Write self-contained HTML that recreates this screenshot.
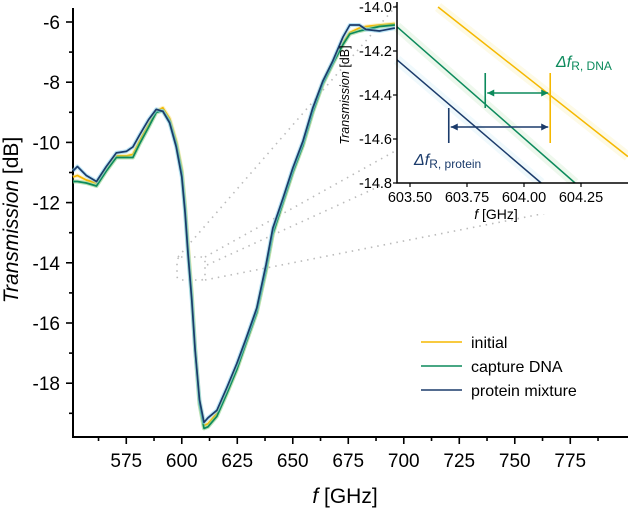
<!DOCTYPE html>
<html><head><meta charset="utf-8"><style>
html,body{margin:0;padding:0;background:#fff;}
svg{display:block;font-family:"Liberation Sans",Arial,sans-serif;}
</style></head><body>
<svg id="chart" width="628" height="511" viewBox="0 0 628 511" xmlns="http://www.w3.org/2000/svg">
<g id="dots" stroke="#bbb" stroke-width="1.6" stroke-dasharray="1.5 5" fill="none">
<rect x="177" y="257" width="28" height="23" rx="4"/>
<line x1="178" y1="257" x2="397" y2="5"/>
<line x1="205" y1="257" x2="397" y2="150"/>
<line x1="207" y1="265" x2="380" y2="186"/>
<line x1="205" y1="280" x2="628" y2="197"/>
</g>
<g id="main"></g>
<g id="inset"></g>
<text x="18" y="220" transform="rotate(-90 18 220)" text-anchor="middle" font-size="21"><tspan font-style="italic">Transmission</tspan> [dB]</text>
<text x="345" y="503" text-anchor="middle" font-size="21"><tspan font-style="italic">f</tspan> [GHz]</text>
<g font-size="16">
<line x1="421" y1="342" x2="462" y2="342" stroke="#f5b800" stroke-width="1.6"/>
<text x="471" y="348">initial</text>
<line x1="421" y1="366" x2="462" y2="366" stroke="#0c8a5c" stroke-width="1.6"/>
<text x="471" y="372">capture DNA</text>
<line x1="421" y1="390" x2="462" y2="390" stroke="#1b3b6b" stroke-width="1.6"/>
<text x="471" y="396">protein mixture</text>
</g>
</svg>
<script>
// main chart data
const freqs   = [551,553,557,561.6,566,570.5,575,578,581,585,588.5,591.5,594.5,597.5,600,601.5,602.8,604.5,606,608,610,611.8,615.8,620.3,624.8,629,633.8,638,641,645.6,650,654.6,659,663.6,668,672.6,675.7,680,683,689,696];
const navyT   = [-10.95,-10.8,-11.1,-11.3,-10.8,-10.35,-10.3,-10.15,-9.75,-9.25,-8.9,-8.97,-9.35,-10.15,-11.15,-12.35,-13.7,-15.25,-16.9,-18.55,-19.3,-19.15,-18.9,-18.15,-17.35,-16.5,-15.5,-14.05,-12.85,-11.85,-10.85,-9.95,-8.85,-7.95,-7.3,-6.5,-6.1,-6.1,-6.25,-6.3,-6.2];
const yellowT = [-11.15,-11.1,-11.25,-11.35,-10.9,-10.45,-10.45,-10.4,-9.95,-9.4,-8.95,-8.85,-9.2,-9.95,-10.9,-12.1,-13.4,-15.0,-16.8,-18.6,-19.4,-19.35,-19.0,-18.3,-17.5,-16.6,-15.6,-14.2,-13.0,-11.95,-10.95,-10.05,-8.95,-8.0,-7.35,-6.7,-6.35,-6.2,-6.15,-6.1,-6.05];
const greenT  = [-11.3,-11.3,-11.35,-11.45,-10.95,-10.5,-10.5,-10.5,-10.05,-9.5,-9.0,-8.95,-9.3,-10.05,-11.0,-12.2,-13.55,-15.1,-16.85,-18.7,-19.5,-19.45,-19.1,-18.35,-17.55,-16.65,-15.65,-14.25,-13.05,-12.0,-11.0,-10.1,-9.0,-8.05,-7.4,-6.75,-6.4,-6.3,-6.25,-6.15,-6.1];
const xTicks  = [575,600,625,650,675,700,725,750,775];
const yTicks  = [-6,-8,-10,-12,-14,-16,-18];
// inset data
const insetYellowF = [603.623,604.456]; const insetYellowT = [-14.0,-14.68];
const insetGreenF  = [603.443,604.224]; const insetGreenT  = [-14.09,-14.8];
const insetNavyF   = [603.443,604.075]; const insetNavyT   = [-14.24,-14.8];
const insetXTicks = [603.50,603.75,604.00,604.25];
const insetYTicks = [-14.0,-14.2,-14.4,-14.6,-14.8];
const markYellowF = 604.115, markGreenF = 603.83, markNavyF = 603.67;

const NS="http://www.w3.org/2000/svg";
function el(t,a,p){const e=document.createElementNS(NS,t);for(const k in a)e.setAttribute(k,a[k]);p.appendChild(e);return e;}
const X=f=>73+(f-551)*2.22;
const Y=t=>22+(-6-t)*30.1;
const main=document.getElementById('main');
let ax=el('path',{d:'M73 8 V437 H628',stroke:'#000','stroke-width':2,fill:'none'},main);


for(let f=562.5;f<800;f+=12.5){
  const major=xTicks.includes(f);
  const t=el('line',{x1:X(f),x2:X(f),y1:437,y2:major?444:441,stroke:'#000','stroke-width':1.6},main);
  
  
}
xTicks.forEach(v=>{const t=el('text',{x:X(v),y:467,'text-anchor':'middle','font-size':19},main);t.textContent=v;
  
  });
for(let v=-6;v>=-19.5;v-=1){
  const major=yTicks.includes(v);
  const t=el('line',{x1:major?66:69,x2:73,y1:Y(v),y2:Y(v),stroke:'#000','stroke-width':1.6},main);
  
  
}
yTicks.forEach(v=>{const t=el('text',{x:60,y:Y(v)+7,'text-anchor':'end','font-size':19},main);t.textContent=v;
  
  });
function series(T,color,band,name){
  const d=freqs.map((f,i)=>(i?'L':'M')+X(f).toFixed(1)+' '+Y(T[i]).toFixed(1)).join(' ');
  const b=el('path',{d,stroke:band,'stroke-width':4,fill:'none','stroke-linejoin':'round',opacity:0.6},main);
  
  
  const l=el('path',{d,stroke:color,'stroke-width':1.7,fill:'none','stroke-linejoin':'round'},main);
  
  
}
series(yellowT,'#f5b800','#fbe79a','initial');
series(greenT,'#0c8a5c','#8fd08a','capture-dna');
series(navyT,'#1b3b6b','#8fd3f0','protein-mixture');

const ins=document.getElementById('inset');
const IX=f=>397+(f-603.443)*228;
const IY=t=>7+(-14-t)*220;
el('rect',{x:398,y:0,width:230,height:183,fill:'#fff'},ins);
function iline(F,T,color,band,name){
  const b=el('line',{x1:IX(F[0]),y1:IY(T[0]),x2:IX(F[1]),y2:IY(T[1]),stroke:band,'stroke-width':10,opacity:0.25},ins);
  
  
  const l=el('line',{x1:IX(F[0]),y1:IY(T[0]),x2:IX(F[1]),y2:IY(T[1]),stroke:color,'stroke-width':1.5},ins);
  
  
}
iline(insetYellowF,insetYellowT,'#f5b800','#fbeea0','initial');
iline(insetGreenF,insetGreenT,'#0c8a5c','#bfe6bc','capture-dna');
iline(insetNavyF,insetNavyT,'#1b3b6b','#c4ebf7','protein-mixture');
el('rect',{x:390,y:184,width:240,height:30,fill:'#fff'},ins);
let iax=el('path',{d:'M397 2 V183 H628',stroke:'#000','stroke-width':1.5,fill:'none'},ins);


insetYTicks.forEach(v=>{
  const t=el('line',{x1:393,x2:397,y1:IY(v),y2:IY(v),stroke:'#000','stroke-width':1.2},ins);
  
  
  const s=el('text',{x:392,y:IY(v)+5,'text-anchor':'end','font-size':14.5},ins);s.textContent=v.toFixed(1);
  
  
});
insetXTicks.forEach(v=>{
  const t=el('line',{x1:IX(v),x2:IX(v),y1:183,y2:187,stroke:'#000','stroke-width':1.2},ins);
  
  
  const s=el('text',{x:IX(v),y:202,'text-anchor':'middle','font-size':14.5},ins);s.textContent=v.toFixed(2);
  
  
});
let iyl=el('text',{x:349,y:95,transform:'rotate(-90 349 95)','text-anchor':'middle','font-size':12.5},ins);
iyl.innerHTML='<tspan font-style="italic">Transmission</tspan> [dB]';


let ixl=el('text',{x:496,y:219,'text-anchor':'middle','font-size':14},ins);
ixl.innerHTML='<tspan font-style="italic">f</tspan> [GHz]';


function vline(f,y1,y2,c,name){const l=el('line',{x1:IX(f),x2:IX(f),y1,y2,stroke:c,'stroke-width':1.6},ins);
  
  }
vline(markYellowF,73,143,'#f5b800','initial-resonance-marker');
vline(markGreenF,73,108,'#0c8a5c','dna-resonance-marker');
vline(markNavyF,108,143,'#1b3b6b','protein-resonance-marker');
function arrow(f1,f2,y,c,name){
  const x1=IX(f1)+2,x2=IX(f2)-2;
  const g=el('g',{},ins);
  
  
  el('line',{x1,x2,y1:y,y2:y,stroke:c,'stroke-width':1.6},g);
  el('path',{d:`M${x1} ${y} l7 -3.5 v7 z M${x2} ${y} l-7 -3.5 v7 z`,fill:c},g);
}
arrow(markGreenF,markYellowF,93,'#0c8a5c','dna-shift-arrow');
arrow(markNavyF,markYellowF,127,'#1b3b6b','protein-shift-arrow');
let l1=el('text',{x:556,y:67,'font-size':16,fill:'#0c8a5c'},ins);
l1.innerHTML='<tspan font-style="italic">Δf</tspan><tspan font-size="12" dy="3">R, DNA</tspan>';


let l2=el('text',{x:414,y:165,'font-size':16,fill:'#1b3b6b'},ins);
l2.innerHTML='<tspan font-style="italic">Δf</tspan><tspan font-size="12" dy="3">R, protein</tspan>';


</script>
</body></html>
